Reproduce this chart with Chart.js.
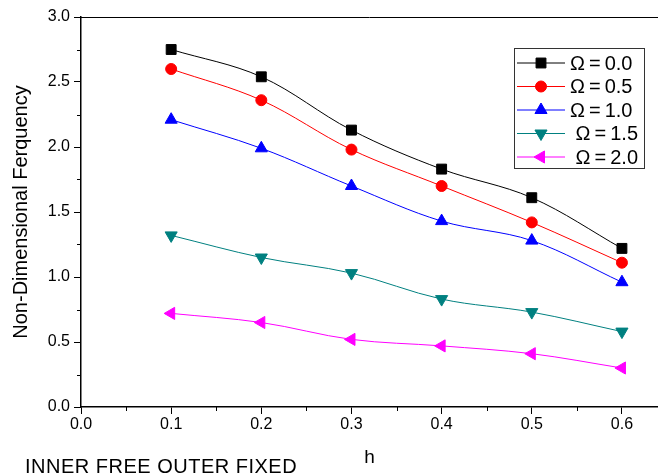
<!DOCTYPE html>
<html>
<head>
<meta charset="utf-8">
<script src="https://cdn.jsdelivr.net/npm/chart.js@4.4.0/dist/chart.umd.min.js"></script>
<style>
html, body { margin: 0; padding: 0; background: #fff; }
#wrap { position: relative; width: 658px; height: 475px; }
#note {
    position: absolute; left: 25px; top: 456px;
    font: 20px "Liberation Sans", Arial, sans-serif; line-height: 20px;
    letter-spacing: 0.5px; color: #000; white-space: nowrap;
}
</style>
</head>
<body>
<div id="wrap">
    <canvas id="chart" width="658" height="475"></canvas>
    <div id="note">INNER FREE OUTER FIXED</div>
</div>
<script>
// data
const hValues = [0.1, 0.2, 0.3, 0.4, 0.5, 0.6];
const omega00 = [2.75, 2.54, 2.13, 1.83, 1.61, 1.22];
const omega05 = [2.60, 2.36, 1.98, 1.70, 1.42, 1.11];
const omega10 = [2.21, 1.99, 1.70, 1.43, 1.28, 0.96];
const omega15 = [1.32, 1.15, 1.03, 0.83, 0.73, 0.58];
const omega20 = [0.72, 0.65, 0.52, 0.47, 0.41, 0.30];
const seriesLabels = ['\u03A9\u2009=\u20090.0', '\u03A9\u2009=\u20090.5', '\u03A9\u2009=\u20091.0', ' \u03A9\u2009=\u20091.5', ' \u03A9\u2009=\u20092.0'];

const xMajor = [0, 0.1, 0.2, 0.3, 0.4, 0.5, 0.6];
const yMajor = [0, 0.5, 1.0, 1.5, 2.0, 2.5, 3.0];
const xMinor = [0.05, 0.15, 0.25, 0.35, 0.45, 0.55];
const yMinor = [0.25, 0.75, 1.25, 1.75, 2.25, 2.75];

const FONT = '"Liberation Sans", Arial, sans-serif';

function series(values) {
    return values.map((v, i) => ({ x: hValues[i], y: v }));
}

const styles = [
    { color: '#000000', pointStyle: 'rect', radius: 7, rotation: 0 },
    { color: '#ff0000', pointStyle: 'circle', radius: 5.5, rotation: 0 },
    { color: '#0000ff', pointStyle: 'triangle', radius: 7, rotation: 0 },
    { color: '#008080', pointStyle: 'triangle', radius: 7, rotation: 180 },
    { color: '#ff00ff', pointStyle: 'triangle', radius: 7, rotation: 270 }
];
const allValues = [omega00, omega05, omega10, omega15, omega20];

const datasets = allValues.map((vals, i) => ({
    label: seriesLabels[i],
    data: series(vals),
    borderColor: styles[i].color,
    backgroundColor: styles[i].color,
    pointBackgroundColor: styles[i].color,
    pointBorderColor: styles[i].color,
    pointStyle: styles[i].pointStyle,
    pointRadius: styles[i].radius,
    pointRotation: styles[i].rotation,
    pointBorderWidth: 1,
    borderWidth: 1,
    tension: 0.35,
    fill: false
}));

// top frame line, minor ticks and the boxed legend
const framePlugin = {
    id: 'frame',
    afterDraw(chart) {
        const { ctx, chartArea: a, scales: { x, y } } = chart;
        ctx.save();
        ctx.strokeStyle = '#000';
        ctx.lineWidth = 1;
        ctx.beginPath();
        ctx.moveTo(a.left, a.top + 0.5);
        ctx.lineTo(a.right, a.top + 0.5);
        xMinor.forEach(v => {
            const px = Math.round(x.getPixelForValue(v)) + 0.5;
            ctx.moveTo(px, a.bottom);
            ctx.lineTo(px, a.bottom + 4);
        });
        yMinor.forEach(v => {
            const py = Math.round(y.getPixelForValue(v)) + 0.5;
            ctx.moveTo(a.left, py);
            ctx.lineTo(a.left - 4, py);
        });
        ctx.stroke();

        // legend
        const boxL = a.right - 144, boxT = a.top + 31, boxW = 130, boxH = 120;
        ctx.strokeStyle = '#333';
        ctx.lineWidth = 1;
        ctx.strokeRect(boxL + 0.5, boxT + 0.5, boxW, boxH);
        ctx.font = '20px ' + FONT;
        ctx.textBaseline = 'middle';
        ctx.textAlign = 'left';
        chart.data.datasets.forEach((ds, i) => {
            const ry = boxT + 15 + i * 23.5;
            ctx.strokeStyle = ds.borderColor;
            ctx.fillStyle = ds.borderColor;
            ctx.lineWidth = 1;
            ctx.beginPath();
            ctx.moveTo(boxL + 3, ry);
            ctx.lineTo(boxL + 51, ry);
            ctx.stroke();
            Chart.helpers.drawPoint(ctx, {
                pointStyle: ds.pointStyle,
                radius: ds.pointRadius,
                rotation: ds.pointRotation,
                borderWidth: 1
            }, boxL + 27, ry);
            ctx.fillStyle = '#000';
            ctx.fillText(ds.label, boxL + 56, ry + 1);
        });
        ctx.restore();
    }
};

new Chart(document.getElementById('chart'), {
    type: 'line',
    data: { datasets: datasets },
    options: {
        responsive: false,
        animation: false,
        layout: { autoPadding: false, padding: { top: 17, right: 0, left: 0, bottom: 0 } },
        plugins: { legend: { display: false }, tooltip: { enabled: false } },
        scales: {
            x: {
                type: 'linear',
                min: 0,
                max: 0.64,
                afterBuildTicks: s => { s.ticks = xMajor.map(v => ({ value: v })); },
                afterFit: s => { s.height = 68; s.paddingRight = 0; s.paddingLeft = 0; },
                ticks: {
                    callback: v => Number(v).toFixed(1),
                    font: { size: 16, family: FONT },
                    color: '#000',
                    padding: 1,
                    maxRotation: 0,
                    autoSkip: false
                },
                grid: { drawOnChartArea: false, drawTicks: true, tickLength: 7, color: '#000' },
                border: { display: true, color: '#000', width: 1.5 },
                title: {
                    display: true, text: 'h', color: '#000',
                    font: { size: 19, family: FONT },
                    padding: { top: 0, bottom: 6 }
                }
            },
            y: {
                min: 0,
                max: 3,
                afterBuildTicks: s => { s.ticks = yMajor.map(v => ({ value: v })); },
                afterFit: s => { s.width = 81; },
                ticks: {
                    callback: v => Number(v).toFixed(1),
                    font: { size: 16, family: FONT },
                    color: '#000',
                    padding: 4
                },
                grid: { drawOnChartArea: false, drawTicks: true, tickLength: 7, color: '#000' },
                border: { display: true, color: '#000', width: 1.5 },
                title: {
                    display: true, text: 'Non-Dimensional Ferquency', color: '#000',
                    font: { size: 20, family: FONT },
                    padding: { top: 9, bottom: 0 }
                }
            }
        }
    },
    plugins: [framePlugin]
});
</script>
</body>
</html>
